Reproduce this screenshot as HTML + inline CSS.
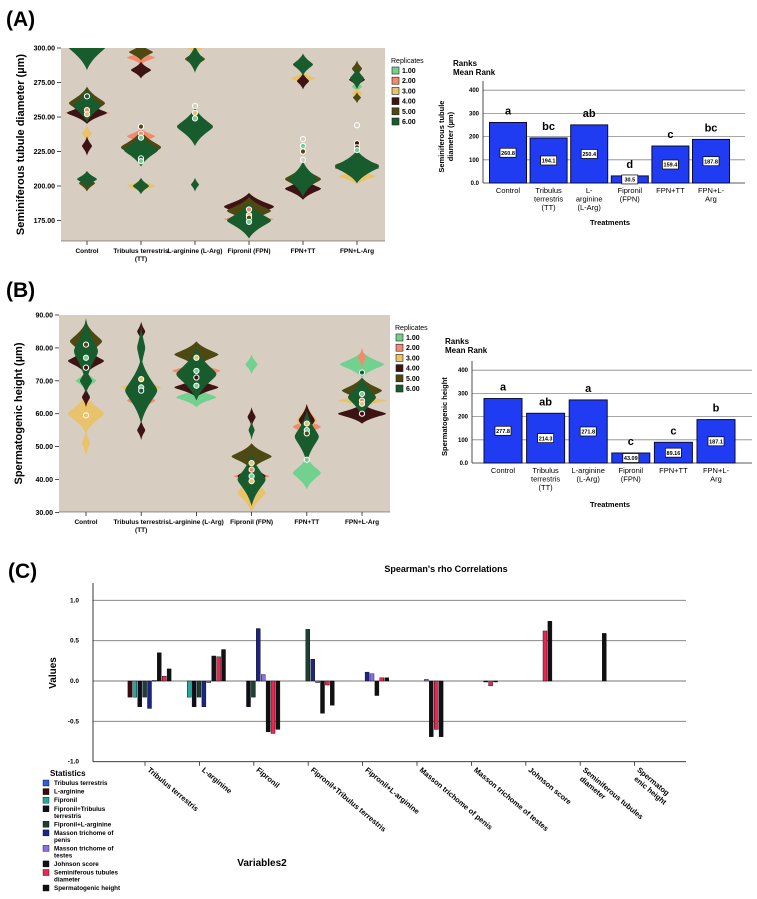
<!DOCTYPE html>
<html><head><meta charset="utf-8"><style>
html,body{margin:0;padding:0;background:#fff;}
svg{display:block;font-family:"Liberation Sans",Arial,sans-serif;}
</style></head><body>
<svg id="fig" width="757" height="899" viewBox="0 0 757 899" xmlns="http://www.w3.org/2000/svg">
<text x="6" y="26" font-size="21" font-weight="bold">(A)</text>
<text x="6" y="297" font-size="21" font-weight="bold">(B)</text>
<text x="8" y="578" font-size="21" font-weight="bold">(C)</text>
<g id="gA"></g>
<g id="gB"></g>
<g id="gBA"></g>
<g id="gBB"></g>
<g id="gC"></g>
</svg>
<script>
// ---------- data ----------
const violinCats = ["Control","Tribulus terrestris|(TT)","L-arginine (L-Arg)","Fipronil (FPN)","FPN+TT","FPN+L-Arg"];
const repLabels = ["1.00","2.00","3.00","4.00","5.00","6.00"];
const repColors = ["#72d18f","#f28b6e","#e9c26c","#3e1313","#4e4912","#185b2d"];
// blobs: [category, centerValue, halfHeightValue, halfWidthPx, replicate]
const blobsA = [
 [0,253,4,22,1],[0,238,6,5,2],[0,253,8,20,3],[0,229,7,5,3],[0,260,12,18,4],[0,202,6,8,4],[0,302,18,20,5],[0,258,12,14,5],[0,205,6,10,5],
 [1,293,5,14,1],[1,236,6,14,1],[1,200,5,14,2],[1,284,6,10,3],[1,228,12,20,3],[1,297,6,12,4],[1,228,12,20,4],[1,226,12,17,5],[1,200,6,8,5],
 [2,244,4,18,1],[2,300,4,8,2],[2,292,7,10,4],[2,243,14,18,5],[2,292,10,8,5],[2,201,5,4,5],
 [3,176,4,25,1],[3,185,10,25,3],[3,182,10,22,4],[3,175,13,22,5],
 [4,278,5,12,2],[4,276,6,6,3],[4,288,8,10,5],[4,198,8,18,3],[4,205,10,18,4],[4,205,13,14,5],
 [5,272,4,5,0],[5,267,5,5,2],[5,207,6,18,2],[5,277,5,8,3],[5,213,5,22,3],[5,285,6,5,4],[5,264,4,4,4],[5,215,8,22,4],[5,278,8,7,5],[5,214,12,22,5]
];
const pointsA = [[0,265,5],[0,255,1],[0,252,2],[1,243,4],[1,238,1],[1,235,0],[1,220,5],[1,218,0],[2,258,-1],[2,253,2],[2,249,0],[3,183,1],[3,179,2],[3,177,4],[3,174,0],[4,234,-1],[4,229,0],[4,225,4],[4,219,-1],[5,244,-1],[5,231,3],[5,228,4],[5,226,0]];
const blobsB = [
 [0,70,3,10,0],[0,60,6,18,2],[0,51,4,4,2],[0,76,4,18,3],[0,65,3,4,3],[0,82,6,16,4],[0,79,10,12,5],[0,70,4,6,5],
 [1,64,3,14,1],[1,68,3,20,2],[1,55,3,4,3],[1,85,3,4,3],[1,67,10,16,5],[1,80,7,4,5],
 [2,65,3,20,0],[2,73,3,24,1],[2,68,3,22,3],[2,78,4,22,4],[2,72,8,20,5],
 [3,75,3,6,0],[3,36,6,14,2],[3,41,2,18,1],[3,59,3,4,3],[3,41,4,14,3],[3,47,4,20,4],[3,55,3,3,5],[3,40,8,14,5],
 [4,42,5,14,0],[4,56,3,14,1],[4,58,5,10,2],[4,58,5,8,3],[4,53,8,12,5],
 [5,75,4,22,0],[5,77,3,4,1],[5,64,2,24,2],[5,60,3,24,3],[5,67,4,20,4],[5,65,6,14,5]
];
const pointsB = [[0,81,4],[0,77,0],[0,74,3],[0,59.5,2],[1,70.5,2],[1,68,0],[1,67,5],[2,77,2],[2,73,0],[2,71,3],[2,68.5,0],[3,45,2],[3,43,1],[3,41,0],[3,39.5,2],[4,57,2],[4,55,0],[4,54,4],[4,46,0],[5,72.5,5],[5,66,0],[5,64,1],[5,63,2],[5,60,3]];

const barCats = ["Control","Tribulus|terrestris|(TT)","L-|arginine|(L-Arg)","Fipronil|(FPN)","FPN+TT","FPN+L-|Arg"];
const barCatsB = ["Control","Tribulus|terrestris|(TT)","L-arginine|(L-Arg)","Fipronil|(FPN)","FPN+TT","FPN+L-|Arg"];
const rankA = [260.8,194.1,250.4,30.5,159.4,187.8];
const rankALabels = ["260.8","194.1","250.4","30.5","159.4","187.8"];
const lettersA = ["a","bc","ab","d","c","bc"];
const rankB = [277.8,214.3,271.8,43.09,89.16,187.1];
const rankBLabels = ["277.8","214.3","271.8","43.09","89.16","187.1"];
const lettersB = ["a","ab","a","c","c","b"];
const rankTicks = [0,100,200,300,400];
const rankTickLabels = ["0.0","100","200","300","400"];

const corrCats = ["Tribulus terrestris","L-arginine","Fipronil","Fipronil+Tribulus terrestris","Fipronil+L-arginine","Masson trichome of penis","Masson trichome of testes","Johnson score","Seminiferous tubules|diameter","Spermatog|enic height"];
const corrSeries = ["Tribulus terrestris","L-arginine","Fipronil","Fipronil+Tribulus|terrestris","Fipronil+L-arginine","Masson trichome of|penis","Masson trichome of|testes","Johnson score","Seminiferous tubules|diameter","Spermatogenic height"];
const corrColors = ["#2f5fe0","#3a0b0b","#2aa59a","#0d0d1c","#1f3f34","#1b2585","#8c6ee6","#111111","#ee2552","#111111"];
const corrValues = [
 [null,-0.2,-0.2,-0.32,-0.2,-0.34,0.01,0.35,0.06,0.15],
 [null,null,-0.2,-0.32,-0.2,-0.32,-0.02,0.31,0.30,0.39],
 [null,null,null,-0.32,-0.2,0.65,0.08,-0.63,-0.65,-0.6],
 [null,null,null,null,0.64,0.27,-0.02,-0.4,-0.05,-0.3],
 [null,null,null,null,null,0.11,0.09,-0.18,0.04,0.04],
 [null,null,null,null,null,null,0.02,-0.69,-0.6,-0.69],
 [null,null,null,null,null,null,null,0.0,-0.06,0.0],
 [null,null,null,null,null,null,null,null,0.62,0.74],
 [null,null,null,null,null,null,null,null,null,0.59],
 [null,null,null,null,null,null,null,null,null,null]
];
const corrTicks = [-1,-0.5,0,0.5,1];
const corrTickLabels = ["-1.0","-0.5","0.0","0.5","1.0"];
const NS="http://www.w3.org/2000/svg";
function mk(parent,tag,attrs,text){const e=document.createElementNS(NS,tag);for(const k in attrs)e.setAttribute(k,attrs[k]);if(text!==undefined)e.textContent=text;parent.appendChild(e);return e;}

// ---------- violin panels ----------
function violin(g,cfg,blobs,points,ticks,tickLabels,yTitle,clipId){
  const ys=v=>cfg.top+(cfg.vmax-v)*cfg.ppu;
  const xs=i=>cfg.x0c+i*cfg.step;
  const bg=mk(g,'rect',{x:cfg.left,y:cfg.top,width:cfg.right-cfg.left,height:cfg.bottom-cfg.top,fill:'#d7cec1'});
  
  
  const defs=mk(g,'defs',{});const cp=mk(defs,'clipPath',{id:clipId});
  mk(cp,'rect',{x:cfg.left,y:cfg.top,width:cfg.right-cfg.left,height:cfg.bottom-cfg.top});
  const bg2=mk(g,'g',{'clip-path':'url(#'+clipId+')'});
  
  
  for(let r=0;r<6;r++){
    blobs.filter(b=>b[4]===r).forEach(b=>{
      const cx=xs(b[0]),cy=ys(b[1]),h=b[2]*cfg.ppu,w=b[3];
      const d=`M${cx},${cy-h} C${cx+w*0.3},${cy-h*0.4} ${cx+w},${cy-h*0.15} ${cx+w},${cy} C${cx+w},${cy+h*0.15} ${cx+w*0.3},${cy+h*0.4} ${cx},${cy+h} C${cx-w*0.3},${cy+h*0.4} ${cx-w},${cy+h*0.15} ${cx-w},${cy} C${cx-w},${cy-h*0.15} ${cx-w*0.3},${cy-h*0.4} ${cx},${cy-h}Z`;
      const p=mk(bg2,'path',{d:d,fill:repColors[r]});
      
      
    });
  }
  points.forEach(pt=>{
    const c=mk(bg2,'circle',{cx:xs(pt[0]),cy:ys(pt[1]),r:2.6,fill:pt[2]<0?'none':repColors[pt[2]],stroke:'#fff','stroke-width':1});
    
    
  });
  // axis
  mk(g,'line',{x1:cfg.left,y1:cfg.bottom,x2:cfg.right,y2:cfg.bottom,stroke:'#333','stroke-width':0.6});
  ticks.forEach((t,i)=>{
    mk(g,'line',{x1:cfg.left-4,y1:ys(t),x2:cfg.left,y2:ys(t),stroke:'#222','stroke-width':0.8});
    const tl=mk(g,'text',{x:cfg.left-6,y:ys(t)+2.5,'font-size':7,'text-anchor':'end','font-weight':'bold'},tickLabels[i]);
    
    
  });
  violinCats.forEach((c,i)=>{
    mk(g,'line',{x1:xs(i),y1:cfg.bottom,x2:xs(i),y2:cfg.bottom+4,stroke:'#222','stroke-width':0.8});
    c.split('|').forEach((ln,k)=>{
      const t=mk(g,'text',{x:xs(i),y:cfg.bottom+12+k*8,'font-size':6.5,'text-anchor':'middle','font-weight':'bold'},ln);
      
      
    });
  });
  const yt=mk(g,'text',{x:0,y:0,'font-size':11,'font-weight':'bold','text-anchor':'middle',transform:`translate(${cfg.left-37},${(cfg.top+cfg.bottom)/2}) rotate(-90)`},yTitle);
  
  
  const lt=mk(g,'text',{x:cfg.legX,y:cfg.legY,'font-size':7},'Replicates');
  
  
  repLabels.forEach((l,i)=>{
    const yy=cfg.legY+10+i*10.2;
    const sw=mk(g,'rect',{x:cfg.legX+1,y:yy-6,width:7,height:7,fill:repColors[i],stroke:'#222','stroke-width':0.6});
    
    
    const t=mk(g,'text',{x:cfg.legX+11,y:yy,'font-size':7,'font-weight':'bold'},l);
    
    
  });
}
violin(document.getElementById('gA'),{left:61,right:385,top:48,bottom:241,vmax:300,ppu:1.38,x0c:87,step:54,legX:391,legY:63},blobsA,pointsA,[175,200,225,250,275,300],["175.00","200.00","225.00","250.00","275.00","300.00"],"Seminiferous tubule  diameter  (µm)","clipA");
violin(document.getElementById('gB'),{left:59,right:390,top:315,bottom:512,vmax:90,ppu:3.29,x0c:86,step:55.2,legX:395,legY:330},blobsB,pointsB,[30,40,50,60,70,80,90],["30.00","40.00","50.00","60.00","70.00","80.00","90.00"],"Spermatogenic height  (µm)","clipB");

// ---------- rank bar charts ----------
function rankChart(g,cfg,vals,labs,letters,cats,ytitle){
  const ys=v=>cfg.y0-v*cfg.pp100/100;
  const xs=i=>cfg.x0c+i*cfg.step;
  let t=mk(g,'text',{x:cfg.rx,y:cfg.ry,'font-size':8,'font-weight':'bold'},'Ranks');
  
  
  t=mk(g,'text',{x:cfg.rx,y:cfg.ry+9,'font-size':8,'font-weight':'bold'},'Mean Rank');
  
  
  rankTicks.forEach((v,i)=>{
    if(v>0) mk(g,'line',{x1:cfg.left,y1:ys(v),x2:cfg.right,y2:ys(v),stroke:'#888','stroke-width':0.8});
    const tl=mk(g,'text',{x:cfg.left-4,y:ys(v)+2,'font-size':6,'text-anchor':'end','font-weight':'bold'},rankTickLabels[i]);
    
    
  });
  mk(g,'line',{x1:cfg.left,y1:ys(440),x2:cfg.left,y2:cfg.y0,stroke:'#222','stroke-width':0.8});
  mk(g,'line',{x1:cfg.left,y1:cfg.y0,x2:cfg.right,y2:cfg.y0,stroke:'#222','stroke-width':0.8});
  vals.forEach((v,i)=>{
    const b=mk(g,'rect',{x:xs(i)-cfg.bw/2,y:ys(v),width:cfg.bw,height:cfg.y0-ys(v),fill:'#1f3cf2',stroke:'#0a0a3a','stroke-width':1});
    
    
    const my=(ys(v)+cfg.y0)/2;
    const bx=mk(g,'rect',{x:xs(i)-8,y:my-4.5,width:16,height:9,fill:'#fff',stroke:'#000','stroke-width':0.7});
    
    
    const vl=mk(g,'text',{x:xs(i),y:my+2.2,'font-size':5.5,'text-anchor':'middle','font-weight':'bold'},labs[i]);
    
    
    const le=mk(g,'text',{x:xs(i),y:ys(v)-8,'font-size':11,'text-anchor':'middle','font-weight':'bold'},letters[i]);
    
    
    cats[i].split('|').forEach((ln,k)=>{
      const ct=mk(g,'text',{x:xs(i),y:cfg.y0+10+k*8.5,'font-size':7.5,'text-anchor':'middle'},ln);
      
      
    });
  });
  const tt=mk(g,'text',{x:610,y:cfg.y0+cfg.ttOff,'font-size':7.5,'text-anchor':'middle','font-weight':'bold'},'Treatments');
  
  
  ytitle.forEach((ln,k)=>{
    const yt=mk(g,'text',{x:0,y:0,'font-size':7.5,'font-weight':'bold','text-anchor':'middle',transform:`translate(${cfg.ytx+k*9},${ys(200)}) rotate(-90)`},ln);
    
    
  });
}
rankChart(document.getElementById('gBA'),{left:483,right:745,y0:183,pp100:23.2,x0c:508,step:40.6,bw:37,rx:453,ry:66,ytx:444,ttOff:42},rankA,rankALabels,lettersA,barCats,["Seminiferous tubule","diameter (µm)"]);
rankChart(document.getElementById('gBB'),{left:472,right:752,y0:463,pp100:23.2,x0c:503,step:42.6,bw:38,rx:445,ry:344,ytx:447,ttOff:44},rankB,rankBLabels,lettersB,barCatsB,["Spermatogenic height"]);

// ---------- Spearman chart ----------
(function(){
  const g=document.getElementById('gC');
  const left=93,right=686,ppu=80.7,y0=681;
  const ys=v=>y0-v*ppu;
  const xs=i=>145+i*54.4;
  const tt=mk(g,'text',{x:446,y:572,'font-size':9,'font-weight':'bold','text-anchor':'middle'},"Spearman's rho Correlations");
  
  
  corrTicks.forEach((v,i)=>{
    mk(g,'line',{x1:left,y1:ys(v),x2:right,y2:ys(v),stroke:v===-1?'#222':'#777','stroke-width':0.9});
    const tl=mk(g,'text',{x:left-14,y:ys(v)+2,'font-size':6.5,'text-anchor':'end','font-weight':'bold'},corrTickLabels[i]);
    
    
  });
  mk(g,'line',{x1:left,y1:583,x2:left,y2:ys(-1),stroke:'#222','stroke-width':0.9});
  const yt=mk(g,'text',{x:0,y:0,'font-size':10,'font-weight':'bold','text-anchor':'middle',transform:`translate(56,${y0-8}) rotate(-90)`},'Values');
  
  
  corrCats.forEach((c,i)=>{
    mk(g,'line',{x1:xs(i),y1:ys(-1),x2:xs(i),y2:ys(-1)+4,stroke:'#222','stroke-width':0.8});
    c.split('|').forEach((ln,k)=>{
      const t=mk(g,'text',{x:0,y:0,'font-size':7.5,'font-weight':'bold',transform:`translate(${xs(i)+2-k*3},${ys(-1)+9+k*9}) rotate(40)`},ln);
      
      
    });
    corrValues[i].forEach((v,j)=>{
      if(v===null) return;
      const x=xs(i)-22+j*4.9;
      const y=Math.min(ys(v),y0), h=Math.max(Math.abs(ys(v)-y0),1);
      const r=mk(g,'rect',{x:x,y:y,width:4,height:h,fill:corrColors[j],stroke:'#000','stroke-width':0.4});
      
      
    });
  });
  const xt=mk(g,'text',{x:262,y:866,'font-size':10,'font-weight':'bold','text-anchor':'middle'},'Variables2');
  
  
  const st=mk(g,'text',{x:50,y:776,'font-size':8,'font-weight':'bold'},'Statistics');
  
  
  let yy=785;
  corrSeries.forEach((s,j)=>{
    const sw=mk(g,'rect',{x:43,y:yy-5,width:6,height:6,fill:corrColors[j],stroke:'#000','stroke-width':0.4});
    
    
    s.split('|').forEach((ln,k)=>{
      const t=mk(g,'text',{x:54,y:yy+k*7,'font-size':6.3,'font-weight':'bold'},ln);
      
      
    });
    yy+=s.includes('|')?15.5:8.6;
  });
})();
</script>
</body></html>
